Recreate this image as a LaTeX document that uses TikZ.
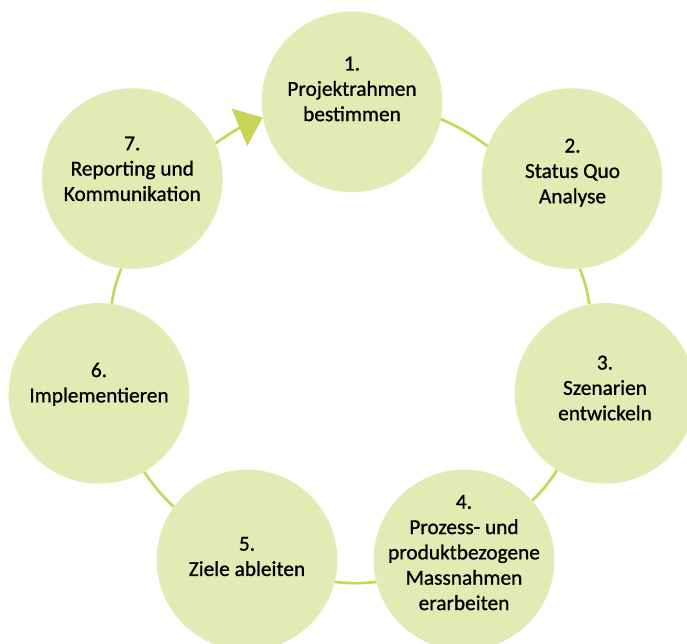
\documentclass[tikz,border=0pt]{standalone}
\usepackage{fontspec}
\setmainfont{Carlito}[FakeBold=0.9]
\usepackage{xcolor}
\usepackage{tikz}
\usetikzlibrary{arrows.meta}

\definecolor{stagefill}{HTML}{E3EAB3}
\definecolor{ringline}{HTML}{C8D657}

\begin{document}
\begin{tikzpicture}[
  x=0.75pt, y=-0.75pt,
  stage/.style={circle, fill=stagefill, minimum size=135.5pt, inner sep=0pt},
  stagetext/.style={align=center, font=\fontsize{16}{19}\selectfont},
  ring/.style={draw=ringline, line width=2pt},
  arrow/.style={ring, -{Triangle[length=19pt, width=30pt]}}
]
\useasboundingbox (0,0) rectangle (687,644);
\node[stage] (s1) at (352,101.8) {};
\node[stage] (s2) at (572,178.6) {};
\node[stage] (s3) at (605,393.4) {};
\node[stage] (s4) at (464,560) {};
\node[stage] (s5) at (247,560) {};
\node[stage] (s6) at (99,393.4) {};
\node[stage] (s7) at (132.3,178.6) {};
\node[stagetext] (t1) at (352,89) {1.\\Projektrahmen\\bestimmen};
\node[stagetext] (t2) at (572.5,172.7) {2.\\Status Quo\\Analyse};
\node[stagetext] (t3) at (605,388) {3.\\Szenarien\\entwickeln};
\node[stagetext] (t4) at (464,552.6) {4.\\Prozess- und\\produktbezogene\\Massnahmen\\erarbeiten};
\node[stagetext] (t5) at (247,556.5) {5.\\Ziele ableiten};
\node[stagetext] (t6) at (99,384.2) {6.\\Implementieren};
\node[stagetext] (t7) at (132.3,168.8) {7.\\Reporting und\\Kommunikation};
\draw[ring] (s1.-11) to[bend left=6] (s2.159);
\draw[ring] (s2.-85) to[bend left=6] (s3.100);
\draw[ring] (s3.238) to[bend left=6] (s4.41);
\draw[ring] (s4.194) to[bend left=6] (s5.-14);
\draw[ring] (s5.144) to[bend left=6] (s6.-60);
\draw[ring] (s6.82) to[bend left=6] (s7.263);
\draw[arrow] (s7.23) to[bend left=6] (s1.190);
\end{tikzpicture}
\end{document}
